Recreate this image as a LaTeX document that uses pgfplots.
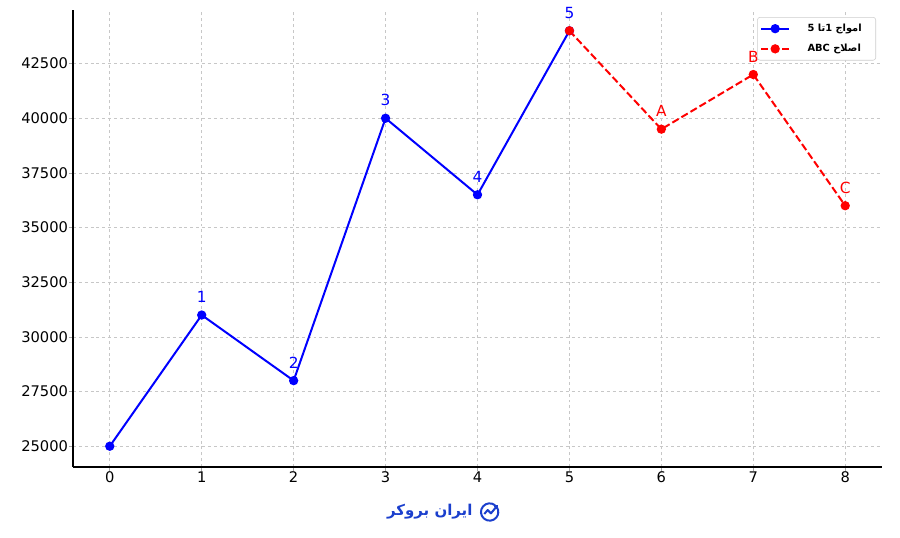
\documentclass[border=0pt]{standalone}
\usepackage{fontspec}
\setmainfont{DejaVu Sans}
\newfontfamily\arabicfont[Script=Arabic]{DejaVu Sans}
\usepackage{pgfplots}
\pgfplotsset{compat=1.18}
\usepackage{pgfplotstable}
\TeXXeTstate=1
\definecolor{mplblue}{RGB}{0,0,255}
\definecolor{mplred}{RGB}{255,0,0}
\definecolor{logoblue}{RGB}{27,63,205}

\pgfplotstableread{
x y label
0 25000 {}
1 31000 1
2 28000 2
3 40000 3
4 36500 4
5 44000 5
}\waves

\pgfplotstableread{
x y label
5 44000 {}
6 39500 A
7 42000 B
8 36000 C
}\corr

\begin{document}
\begin{tikzpicture}
\useasboundingbox (-54.75pt,-52.5pt) rectangle (620.25pt,350.25pt);
\begin{axis}[
  at={(0,0)}, anchor=south west,
  scale only axis, width=606.75pt, height=342.75pt,
  xmin=-0.4, xmax=8.4, ymin=24050, ymax=44950,
  axis x line*=bottom, axis y line*=left,
  axis line style={-, black, line width=0.8pt},
  xtick={0,...,8}, ytick={25000,27500,...,42500},
  tick align=outside, major tick length=3pt,
  tick style={black!35, line width=0.6pt},
  grid=major,
  major grid style={black!22, dash pattern=on 2.2pt off 2.2pt, line width=0.6pt},
  tick label style={font=\fontsize{11}{13}\selectfont, inner sep=0.6pt},
  /pgf/number format/assume math mode=true,
  yticklabel style={/pgf/number format/1000 sep={}},
  scaled y ticks=false,
  clip=false,
  legend cell align=left,
  legend style={at={(1,1)}, anchor=north east, xshift=-4.5pt, yshift=-5.25pt,
    draw=black!20, rounded corners=2pt, fill=white,
    font=\fontsize{7.4}{9}\selectfont, row sep=4pt, inner xsep=2pt, inner ysep=3pt,
    /tikz/every odd column/.append style={column sep=11pt}},
  legend image code/.code={\draw[mark repeat=2,mark phase=2] plot coordinates {(0cm,0cm)(0.37cm,0cm)(0.74cm,0cm)};},
]
\addplot[mplblue, line width=1.5pt, mark=*, mark size=2.7pt,
  nodes near coords, point meta=explicit symbolic,
  every node near coord/.append style={anchor=south, inner sep=0pt, yshift=8.5pt,
    font=\fontsize{11.5}{13}\selectfont, text=mplblue}]
  table[x=x, y=y, meta=label]{\waves};
\addlegendentry{{\arabicfont\bfseries\beginR امواج 1تا 5\endR}\hspace*{6.5pt}}
\addplot[mplred, line width=1.5pt, dash pattern=on 5.5pt off 2.4pt, mark=*, mark size=2.7pt, mark options={solid},
  nodes near coords, point meta=explicit symbolic,
  every node near coord/.append style={anchor=south, inner sep=0pt, yshift=8.5pt,
    font=\fontsize{11.5}{13}\selectfont, text=mplred}]
  table[x=x, y=y, meta=label]{\corr};
\addlegendentry{{\arabicfont\bfseries\beginR اصلاح \beginL ABC\endL\endR}\hspace*{6.5pt}}
\node[font=\arabicfont\bfseries\fontsize{11.2}{13}\selectfont, text=logoblue, yshift=-33.75pt] at (rel axis cs:0.441,0) {\beginR ایران بروکر\endR};
\coordinate (logo) at (rel axis cs:0.515,0);
\end{axis}
\begin{scope}[shift={(logo)}, yshift=-33.75pt, logoblue, line width=1.5pt]
  \draw (50:6.5pt) arc (50:390:6.5pt);
  \draw[line join=round] (-4pt,-1.5pt) -- (-1.5pt,1.5pt) -- (1pt,-1pt) -- (5.5pt,4.5pt);
  \draw (3pt,4.8pt) -- (5.8pt,4.8pt) -- (5.8pt,2pt);
\end{scope}
\end{tikzpicture}
\end{document}
